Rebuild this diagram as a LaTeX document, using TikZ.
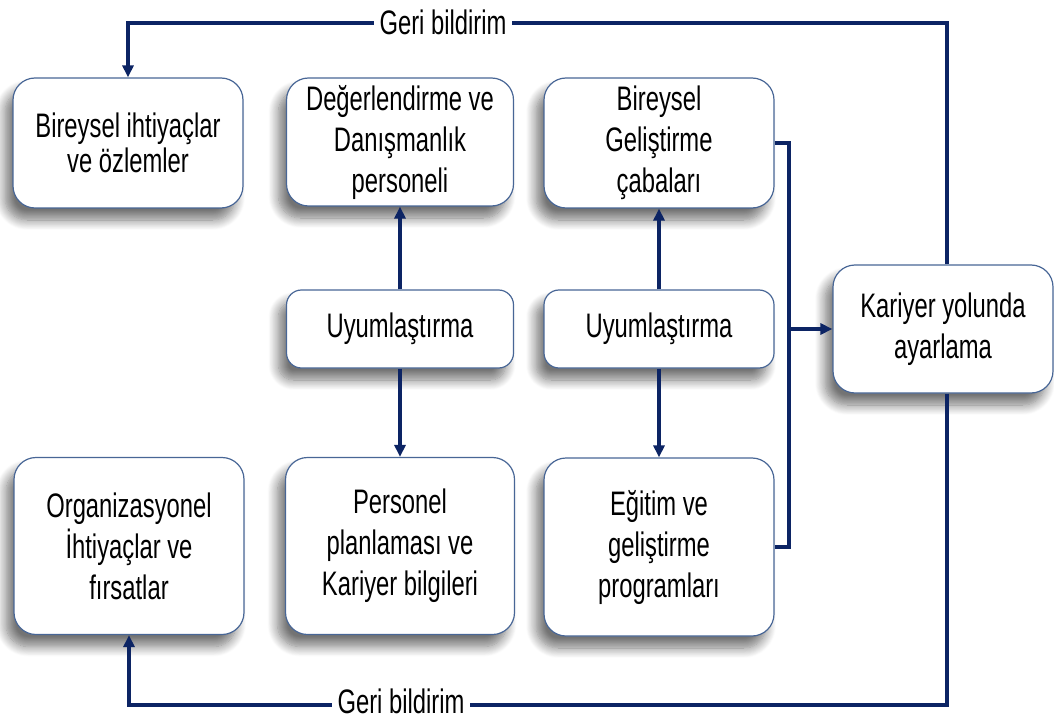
\documentclass[tikz,border=0pt]{standalone}
\usepackage{fontspec}
\setmainfont{Liberation Sans}[FakeStretch=0.70]
\usetikzlibrary{arrows.meta,shadows.blur}
\definecolor{navy}{RGB}{12,36,100}
\definecolor{boxline}{RGB}{72,102,150}
\begin{document}
\begin{tikzpicture}[x=1pt,y=-1pt,
  box/.style={draw=boxline, line width=1.2pt, fill=white, rounded corners=22pt,
    align=center, inner sep=0pt,
    font=\fontsize{34}{41}\selectfont,
    blur shadow={shadow xshift=-8pt, shadow yshift=-12pt, shadow blur radius=10pt,
      shadow blur steps=12, shadow opacity=55}},
  smallbox/.style={box, rounded corners=15pt},
  link/.style={draw=navy, line width=3.5pt},
  arr/.style={link, -{Triangle[length=12pt,width=11pt]}},
  fb/.style={fill=white, inner xsep=6pt, inner ysep=0pt, font=\fontsize{34}{36}\selectfont}
]
\useasboundingbox (0,0) rectangle (1054,719);

% boxes
\node[box, minimum width=230pt, minimum height=130pt,
  font=\fontsize{34}{35}\selectfont] (A) at (128,143) {Bireysel ihtiyaçlar\\ve özlemler};
\node[box, minimum width=227pt, minimum height=128pt] (B) at (400,142) {Değerlendirme ve\\Danışmanlık\\personeli};
\node[box, minimum width=230pt, minimum height=130pt] (C) at (659,143) {Bireysel\\Geliştirme\\çabaları};
\node[smallbox, minimum width=227pt, minimum height=78pt] (U1) at (400,329) {Uyumlaştırma};
\node[smallbox, minimum width=230pt, minimum height=78pt] (U2) at (659,329) {Uyumlaştırma};
\node[box, minimum width=220pt, minimum height=128pt] (K) at (943,329) {Kariyer yolunda\\ayarlama};
\node[box, minimum width=230pt, minimum height=177pt] (O) at (129,546) {Organizasyonel\\İhtiyaçlar ve\\fırsatlar};
\node[box, minimum width=229pt, minimum height=177pt] (P) at (400,546) {Personel\\planlaması ve\\Kariyer bilgileri};
\node[box, minimum width=230pt, minimum height=178pt] (E) at (659,547) {Eğitim ve\\geliştirme\\programları};

% matching arrows
\draw[arr] (U1.north) -- (B.south);
\draw[arr] (U1.south) -- (P.north);
\draw[arr] (U2.north) -- (U2.north |- C.south);
\draw[arr] (U2.south) -- (U2.south |- E.north);

% bracket into the career path box
\coordinate (bus) at (789,329);
\draw[link] (C.east) -| (bus) |- (E.east);
\draw[arr] (bus) -- (K.west);

% feedback loops
\coordinate (tr) at (947,23);
\coordinate (br) at (947,705);
\draw[arr] (K.north -| tr) -- (tr) -| (A.north);
\draw[arr] (K.south -| br) -- (br) -| (O.south);
\node[fb] (fb1) at (443,22) {Geri bildirim};
\node[fb] (fb2) at (401,701) {Geri bildirim};
\end{tikzpicture}
\end{document}
